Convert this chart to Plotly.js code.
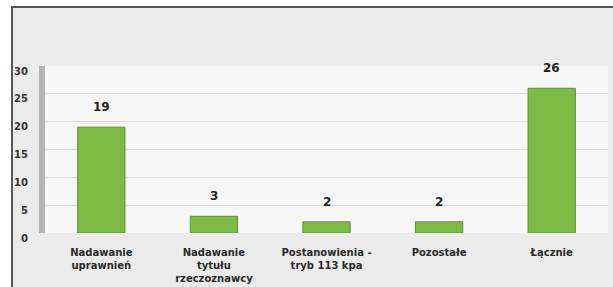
<!DOCTYPE html>
<html>
<head>
<meta charset="utf-8">
<script src="https://cdn.plot.ly/plotly-3.0.1.min.js"></script>
<style>
  html, body { margin: 0; padding: 0; background: #ffffff; }
  #wrap { position: relative; width: 613px; height: 287px; overflow: hidden; }
  #bg { position: absolute; left: 11px; top: 6px; right: 0; bottom: 0;
        background: #ebebeb; border-left: 2px solid #555; border-top: 2px solid #555; }
  #chart { position: absolute; left: 0; top: 0; width: 613px; height: 287px; }
</style>
</head>
<body>
<div id="wrap">
  <div id="bg"></div>
  <div id="chart"></div>
</div>
<script>
const categories = [
  "Nadawanie<br>uprawnień",
  "Nadawanie<br>tytułu<br>rzeczoznawcy",
  "Postanowienia -<br>tryb 113 kpa",
  "Pozostałe",
  "Łącznie"
];
const values = [19, 3, 2, 2, 26];
const yTicks = [0, 5, 10, 15, 20, 25, 30];

const trace = {
  type: 'bar',
  x: categories,
  y: values,
  marker: { color: '#7dbb45', line: { color: '#5a9230', width: 1 } },
  hoverinfo: 'none'
};

const annotations = categories.map((c, i) => ({
  x: c, y: values[i], xref: 'x', yref: 'y',
  text: String(values[i]), showarrow: false,
  yanchor: 'middle', yshift: 20,
  font: { family: 'DejaVu Sans, sans-serif', size: 12, color: '#222', weight: 'bold' }
}));

const layout = {
  width: 613, height: 287,
  margin: { l: 45, r: 5, t: 66, b: 54 },
  paper_bgcolor: 'rgba(0,0,0,0)',
  plot_bgcolor: '#f6f6f6',
  showlegend: false,
  bargap: 0.58,
  xaxis: {
    type: 'category',
    showgrid: false, zeroline: false, showline: false, ticks: '',
    tickfont: { family: 'DejaVu Sans, sans-serif', size: 10, color: '#2a2a2a', weight: 'bold' },
    ticklabelstandoff: 12
  },
  yaxis: {
    range: [0, 30],
    tickvals: yTicks,
    ticktext: yTicks.map(String),
    showgrid: true, gridcolor: '#dadada', gridwidth: 1,
    zeroline: false,
    showline: true, linecolor: '#b4b4b4', linewidth: 6,
    ticks: '',
    ticklabelstandoff: 9,
    ticklabelshift: 5,
    tickfont: { family: 'DejaVu Sans, sans-serif', size: 10, color: '#333', weight: 'bold' }
  },
  annotations: annotations
};

Plotly.newPlot('chart', [trace], layout, { displayModeBar: false, staticPlot: true });
</script>
</body>
</html>
